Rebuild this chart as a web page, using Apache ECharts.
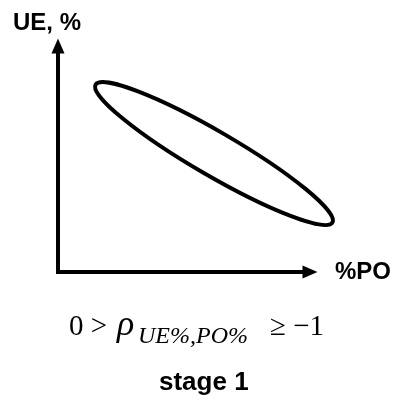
<!DOCTYPE html>
<html>
<head>
<meta charset="utf-8">
<script src="https://cdn.jsdelivr.net/npm/echarts@6/dist/echarts.min.js"></script>
<style>
  html, body { margin: 0; padding: 0; background: #fff; }
  #chart { width: 398px; height: 400px; }
</style>
</head>
<body>
<div id="chart"></div>
<script>
// axis names and caption
const xName = "%PO";
const yName = "UE, %";
const caption = "stage 1";

// scatter cloud outline: ends of the long axis (data units) and width ratio
const ellipseEnds = [[1.49, 8.29], [10.89, 2.19]];
const ellipseRatio = 0.16;

const chart = echarts.init(document.getElementById("chart"));

// 椭圆
const renderEllipse = (params, api) => {
  const p1 = api.coord(ellipseEnds[0]);
  const p2 = api.coord(ellipseEnds[1]);
  const cx = (p1[0] + p2[0]) / 2;
  const cy = (p1[1] + p2[1]) / 2;
  const rx = Math.hypot(p2[0] - p1[0], p2[1] - p1[1]) / 2;
  return {
    type: "ellipse",
    x: cx,
    y: cy,
    rotation: -Math.atan2(p2[1] - p1[1], p2[0] - p1[0]),
    shape: { cx: 0, cy: 0, rx: rx, ry: rx * ellipseRatio },
    style: { fill: "none", stroke: "#000", lineWidth: 4 },
  };
};

const axisCommon = {
  type: "value",
  min: 0,
  max: 10,
  splitLine: { show: false },
  axisTick: { show: false },
  axisLabel: { show: false },
  axisLine: {
    show: true,
    symbol: ["none", "triangle"],
    symbolSize: [13, 15],
    lineStyle: { color: "#000", width: 4, cap: "square" },
  },
  nameTextStyle: {
    fontFamily: "Liberation Sans",
    fontWeight: "bold",
    fontSize: 24,
    color: "#000",
  },
};

chart.setOption({
  animation: false,
  grid: { left: 58, right: 88, top: 46, bottom: 128 },
  xAxis: Object.assign({}, axisCommon, {
    name: xName,
    nameLocation: "end",
    nameGap: 25,
    nameTextStyle: Object.assign({}, axisCommon.nameTextStyle, {
      verticalAlign: "middle",
      padding: [24, 0, 0, 0],
    }),
  }),
  yAxis: Object.assign({}, axisCommon, {
    name: yName,
    nameLocation: "end",
    nameGap: 11,
    nameTextStyle: Object.assign({}, axisCommon.nameTextStyle, {
      padding: [0, 22, 0, 0],
    }),
  }),
  series: [
    {
      type: "custom",
      renderItem: renderEllipse,
      data: [0],
      silent: true,
    },
  ],
  graphic: [
    {
      type: "text",
      left: 69,
      top: 313,
      style: { text: "0 >", font: "29px 'Liberation Serif'", fill: "#000" },
    },
    {
      type: "text",
      left: 117,
      top: 308,
      style: { text: "ρ", font: "italic 36px 'Liberation Serif'", fill: "#000" },
    },
    {
      type: "text",
      left: 138,
      top: 325,
      style: { text: "UE%,PO%", font: "italic 24px 'Liberation Serif'", fill: "#000" },
    },
    {
      type: "text",
      left: 270,
      top: 313,
      style: { text: "≥ −1", font: "29px 'Liberation Serif'", fill: "#000" },
    },
    {
      type: "text",
      left: 159,
      top: 370,
      style: { text: caption, font: "bold 26px 'Liberation Sans'", fill: "#000" },
    },
  ],
});
</script>
</body>
</html>
